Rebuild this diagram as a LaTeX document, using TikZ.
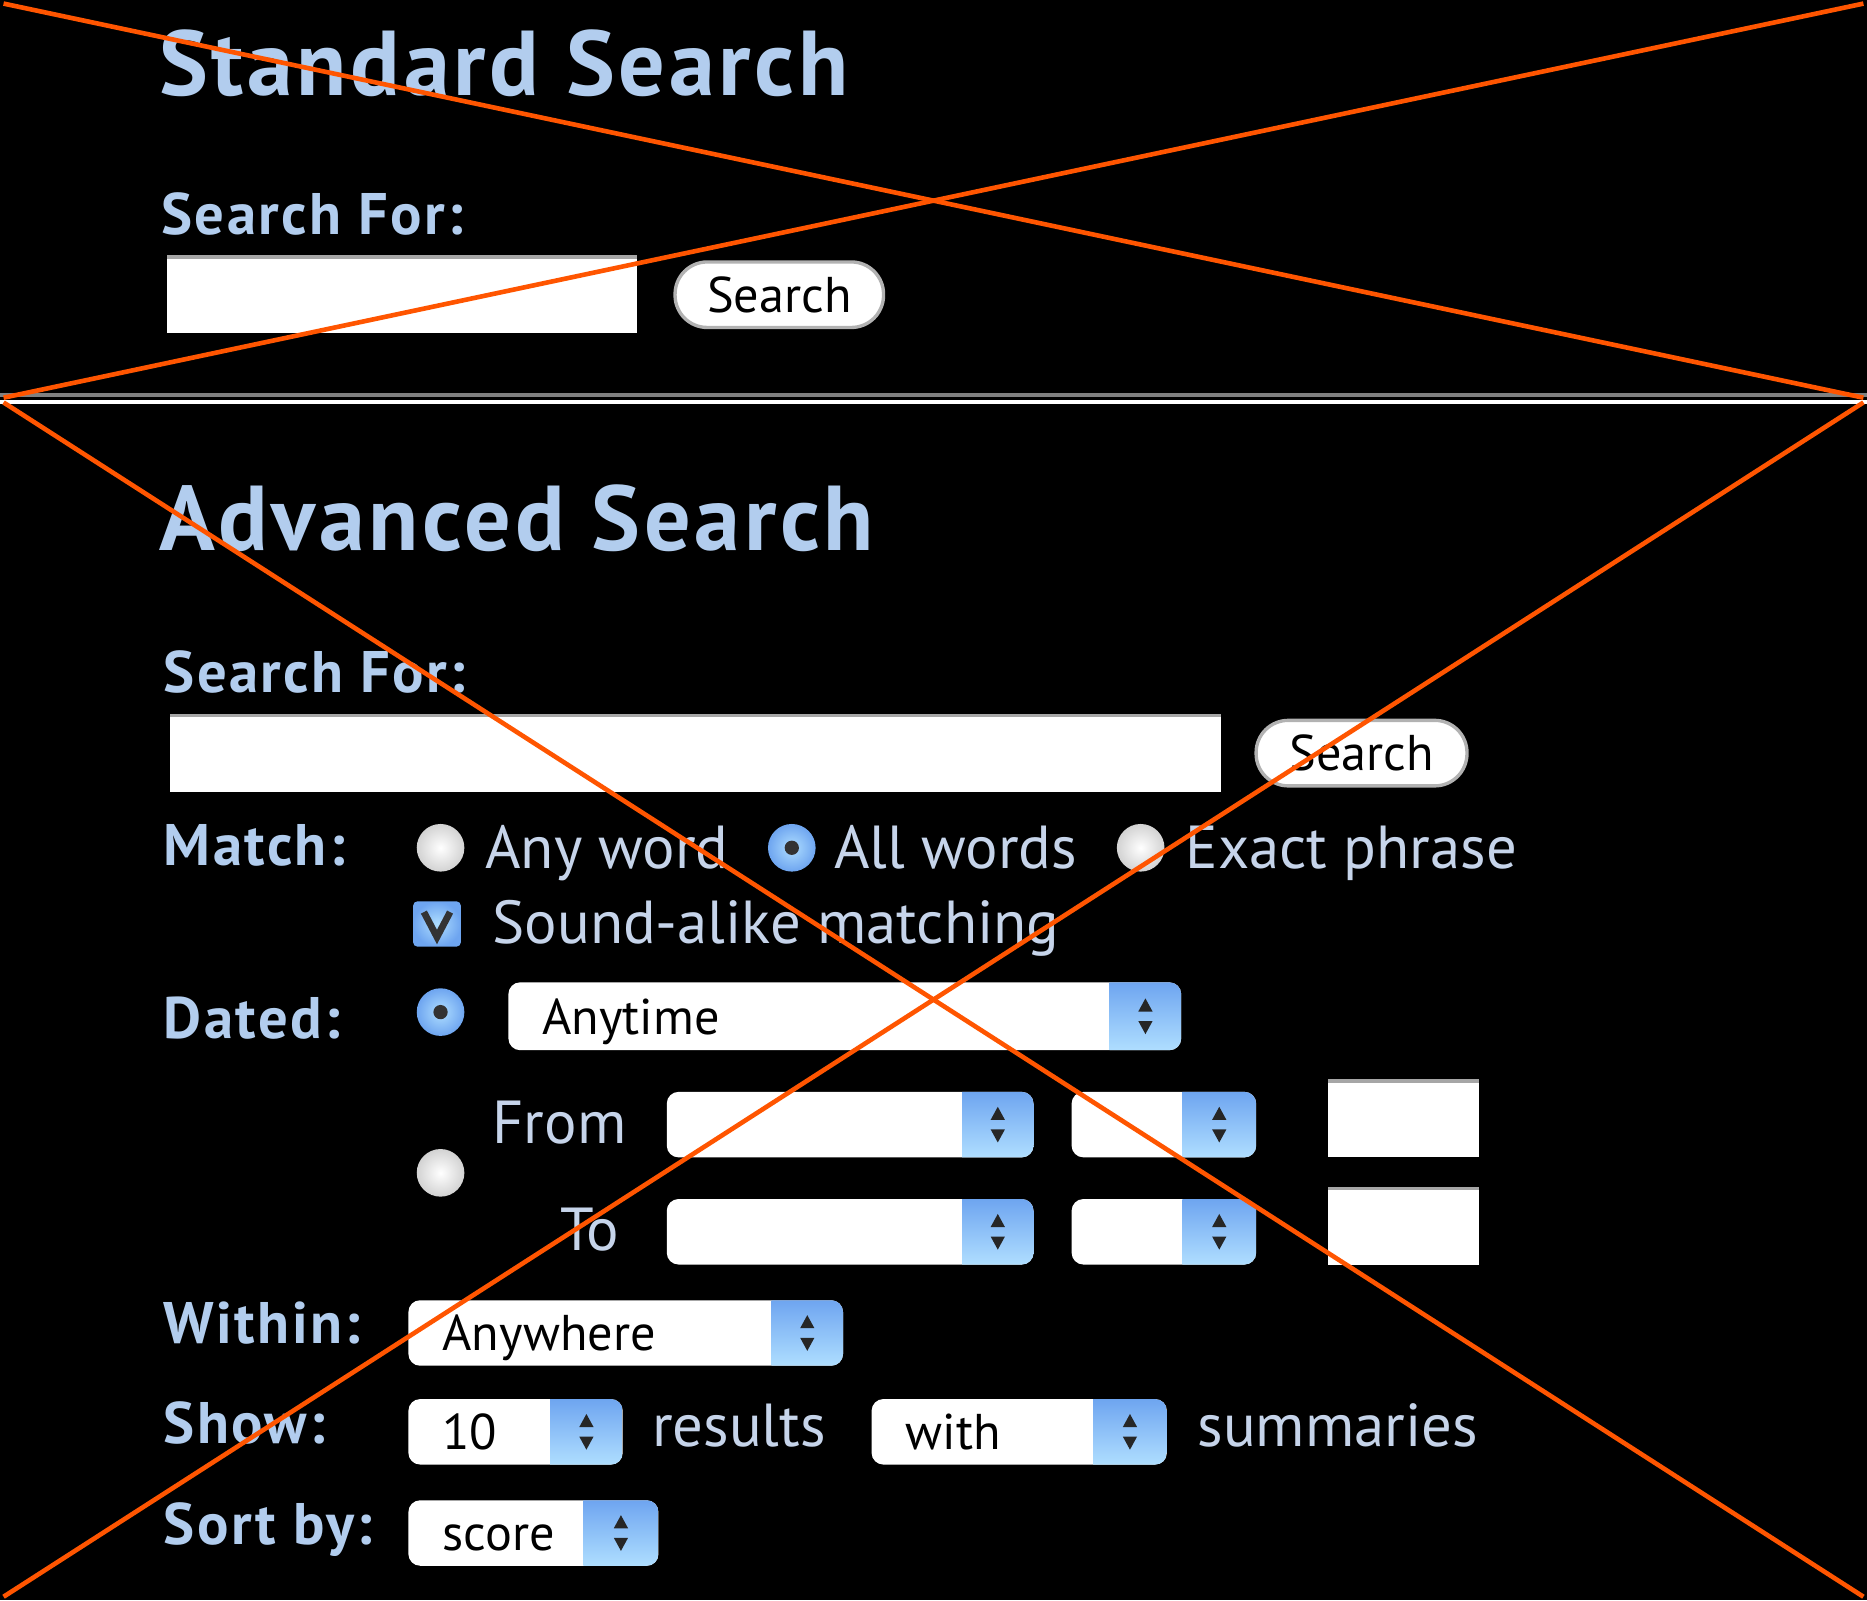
\documentclass[tikz,border=0pt]{standalone}
\usepackage{fontspec}
\setmainfont{PT Sans}
\newfontfamily\widefont[LetterSpace=4.0]{PT Sans}
\definecolor{crossline}{RGB}{255,85,0}
\definecolor{lblblue}{RGB}{178,205,238}
\definecolor{opttext}{RGB}{198,212,234}
\definecolor{popA}{RGB}{110,165,240}
\definecolor{popB}{RGB}{175,222,255}
% popup menu: name, x1, y1, x2, y2, x of the blue part, text
\newcommand\popmenu[7]{%
  \fill[white, rounded corners=2.8pt] (#2,#3) rectangle (#4,#5);
  \begin{scope}
    \clip (#6,#3) rectangle (#4,#5);
    \shade[top color=popA, bottom color=popB, rounded corners=2.8pt] (#2,#3) rectangle (#4,#5);
  \end{scope}
  \fill[black!85] ({(#6+#4)/2},{(#3+#5)/2-15}) -- ++(-6,11) -- ++(12,0) -- cycle;
  \fill[black!85] ({(#6+#4)/2},{(#3+#5)/2+15}) -- ++(-6,-11) -- ++(12,0) -- cycle;
  \node[poptext] (#1) at (#2+28,{(#3+#5)/2+15}) {#7};
}
\begin{document}
\begin{tikzpicture}[x=0.01cm, y=-0.01cm,
    head/.style={anchor=base west, inner sep=0, text=lblblue, font=\fontsize{22}{26}\widefont\bfseries},
    lbl/.style={anchor=base west, inner sep=0, text=lblblue, font=\fontsize{14}{17}\widefont\bfseries},
    opt/.style={anchor=base west, inner sep=0, text=opttext, font=\fontsize{14.5}{17}\selectfont},
    poptext/.style={anchor=base west, inner sep=0, text=black, font=\fontsize{12}{14}\selectfont},
    field/.style={fill=white, inner sep=0,
      path picture={\draw[gray!70, line width=1.4pt] (path picture bounding box.north west) -- (path picture bounding box.north east);}},
    btn/.style={fill=white, draw=gray!60, line width=0.8pt, rounded corners=0.27cm, minimum height=0.55cm, font=\fontsize{12}{14}\selectfont},
    radio/.style={inner color=white, outer color=gray!35},
    radiosel/.style={inner color=popB, outer color=popA},
    xline/.style={crossline, line width=1.1pt}]
  \fill[black] (0,0) rectangle (1568,1344);
  \useasboundingbox (0,0) rectangle (1568,1344);

  % Standard search
  \node[head] (stdhead) at (133,80) {Standard Search};
  \node[lbl] (stdlbl) at (135,197) {Search For:};
  \node[field, minimum width=3.95cm, minimum height=0.65cm] (stdfield) at (337.5,247.5) {};
  \node[btn, minimum width=1.75cm] (stdbtn) at (654.5,247.5) {Search};

  % divider
  \draw[gray, line width=0.9pt] (0,332) -- (1568,332);
  \draw[white, line width=0.9pt] (0,337.5) -- (1568,337.5);

  % Advanced search
  \node[head] (advhead) at (133,462) {Advanced Search};
  \node[lbl] (advlbl) at (137,582) {Search For:};
  \node[field, minimum width=8.82cm, minimum height=0.65cm] (advfield) at (584,632.5) {};
  \node[btn, minimum width=1.77cm] (advbtn) at (1143.5,632.5) {Search};

  % match
  \node[lbl] (matchlbl) at (137,727) {Match:};
  \shade[radio] (370,712) circle (20);
  \shade[radiosel] (665,712) circle (20);
  \fill[black!80] (665,712) circle (6);
  \shade[radio] (958,712) circle (20);
  \node[opt] (anyword) at (407,729) {Any word};
  \node[opt] (allwords) at (700,729) {All words};
  \node[opt] (exact) at (995,729) {Exact phrase};
  \shade[radiosel, rounded corners=1pt] (347,757) rectangle (387,795);
  \draw[black!80, line width=1.6pt] (356,766) -- (367,787) -- (378,766);
  \node[opt] (soundalike) at (413,792) {Sound-alike matching};

  % dated
  \node[lbl] (datedlbl) at (137,872) {Dated:};
  \shade[radiosel] (370,850) circle (20);
  \fill[black!80] (370,850) circle (6);
  \popmenu{anytime}{427}{825}{992}{882}{932}{Anytime}
  \shade[radio] (370,985) circle (20);
  \node[opt] (fromlbl) at (413,960) {From};
  \popmenu{frommonth}{560}{917}{868}{972}{808}{}
  \popmenu{fromday}{900}{917}{1055}{972}{993}{}
  \node[field, minimum width=1.27cm, minimum height=0.65cm] (fromyear) at (1178.5,939.5) {};
  \node[opt] (tolbl) at (470,1050) {To};
  \popmenu{tomonth}{560}{1007}{868}{1062}{808}{}
  \popmenu{today}{900}{1007}{1055}{1062}{993}{}
  \node[field, minimum width=1.27cm, minimum height=0.65cm] (toyear) at (1178.5,1029.5) {};

  % within, show, sort
  \node[lbl] (withinlbl) at (137,1128) {Within:};
  \popmenu{anywhere}{343}{1092}{708}{1147}{648}{Anywhere}
  \node[lbl] (showlbl) at (137,1212) {Show:};
  \popmenu{count}{343}{1175}{523}{1230}{462}{10}
  \node[opt] (results) at (547,1215) {results};
  \popmenu{with}{732}{1175}{980}{1230}{918}{with}
  \node[opt] (summaries) at (1005,1215) {summaries};
  \node[lbl] (sortlbl) at (137,1297) {Sort by:};
  \popmenu{score}{343}{1260}{553}{1315}{490}{score}

  % crossing lines
  \coordinate (ta) at (3,3);
  \coordinate (tb) at (1565,3);
  \coordinate (tc) at (3,334);
  \coordinate (td) at (1565,334);
  \coordinate (ba) at (3,338);
  \coordinate (bb) at (1565,338);
  \coordinate (bc) at (3,1341);
  \coordinate (bd) at (1565,1341);
  \draw[xline] (ta) -- (td);
  \draw[xline] (tc) -- (tb);
  \draw[xline] (ba) -- (bd);
  \draw[xline] (bc) -- (bb);
\end{tikzpicture}
\end{document}
